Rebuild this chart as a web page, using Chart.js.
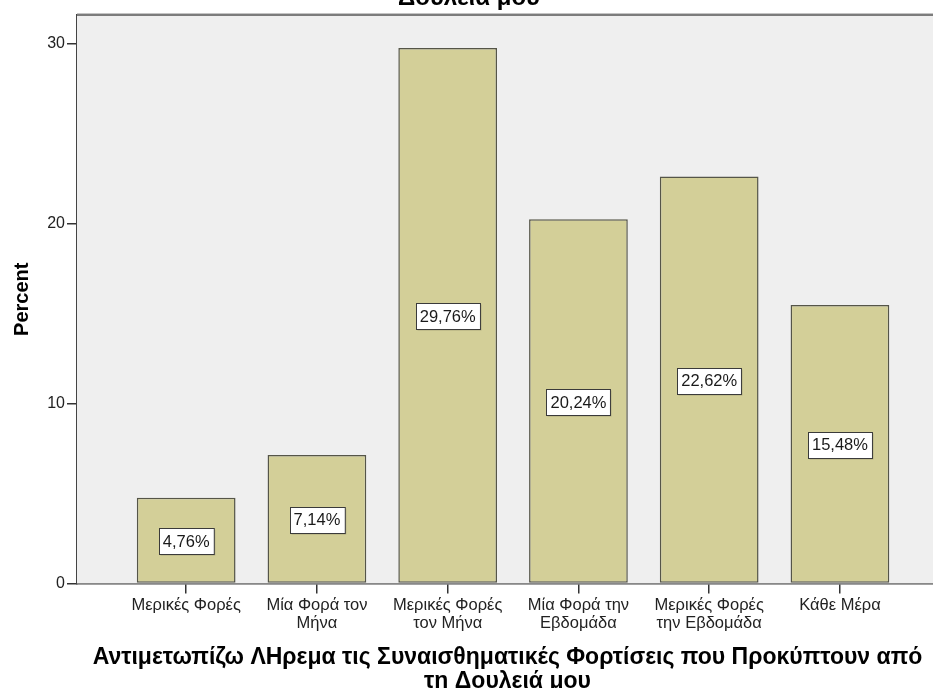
<!DOCTYPE html>
<html>
<head>
<meta charset="utf-8">
<script src="https://cdn.jsdelivr.net/npm/chart.js@4/dist/chart.umd.min.js"></script>
<style>
  html, body { margin: 0; padding: 0; background: #ffffff; overflow: hidden; }
  #frame { position: relative; width: 933px; height: 688px; overflow: hidden; }
  #chart { position: absolute; left: 0; top: -45px; }
</style>
</head>
<body>
<div id="frame"><canvas id="chart" width="945" height="745"></canvas></div>
<script>
// Response categories (tick labels, wrapped onto lines)
const categories = [
  ["Μερικές Φορές"],
  ["Μία Φορά τον", "Μήνα"],
  ["Μερικές Φορές", "τον Μήνα"],
  ["Μία Φορά την", "Εβδομάδα"],
  ["Μερικές Φορές", "την Εβδομάδα"],
  ["Κάθε Μέρα"]
];

// Percent of respondents per category
const percents = [4.76, 7.14, 29.76, 20.24, 22.62, 15.48];

// Value-axis ticks
const yTicks = [0, 10, 20, 30];

const chartTitle = [
  "Αντιμετωπίζω ΛΗρεμα τις Συναισθηματικές Φορτίσεις που Προκύπτουν από τη",
  "Δουλειά μου"
];
const xTitle = [
  "Αντιμετωπίζω ΛΗρεμα τις Συναισθηματικές Φορτίσεις που Προκύπτουν από",
  "τη Δουλειά μου"
];
const yTitle = "Percent";

const FONT = "'Liberation Sans', Arial, sans-serif";

// Grey plot background plus the frame line along its top edge
const plotFrame = {
  id: 'plotFrame',
  beforeDatasetsDraw(chart) {
    const { ctx, chartArea: a } = chart;
    ctx.save();
    ctx.fillStyle = '#efefef';
    ctx.fillRect(a.left, a.top, chart.width - a.left, a.bottom - a.top);
    ctx.fillStyle = '#c4c4c4';
    ctx.fillRect(a.left, a.top - 2, chart.width - a.left, 1);
    ctx.fillStyle = '#7c7c7c';
    ctx.fillRect(a.left, a.top - 1, chart.width - a.left, 2);
    ctx.restore();
  }
};

// Boxed percentage labels in the middle of each bar
const barLabels = {
  id: 'barLabels',
  afterDatasetsDraw(chart) {
    const { ctx } = chart;
    const meta = chart.getDatasetMeta(0);
    const values = chart.data.datasets[0].data;
    ctx.save();
    ctx.font = "16.5px " + FONT;
    ctx.textAlign = 'center';
    ctx.textBaseline = 'middle';
    meta.data.forEach((bar, i) => {
      const v = values[i].y;
      const text = v.toFixed(2).replace('.', ',') + '%';
      const w = ctx.measureText(text).width + 8;
      const h = 26;
      const cx = bar.x;
      const cy = (bar.y + bar.base) / 2 + 1;
      const x0 = Math.round(cx - w / 2) + 0.5;
      const y0 = Math.round(cy - h / 2) + 0.5;
      ctx.fillStyle = 'rgba(0,0,0,0.18)';
      ctx.fillRect(x0 + 1, y0 + 1, w, h);
      ctx.fillStyle = '#ffffff';
      ctx.fillRect(x0, y0, w, h);
      ctx.strokeStyle = '#3a3a3a';
      ctx.lineWidth = 1;
      ctx.strokeRect(x0, y0, w, h);
      ctx.fillStyle = '#1a1a1a';
      ctx.fillText(text, cx, cy + 1);
    });
    ctx.restore();
  }
};

new Chart(document.getElementById('chart'), {
  type: 'bar',
  data: {
    datasets: [{
      data: percents.map((v, i) => ({ x: i, y: v })),
      backgroundColor: '#d3cf98',
      borderColor: '#555548',
      borderWidth: 1.5,
      borderSkipped: false,
      categoryPercentage: 1,
      barPercentage: 0.755
    }]
  },
  options: {
    responsive: false,
    devicePixelRatio: 1,
    animation: false,
    layout: { padding: { left: 0, right: 7, top: 0, bottom: 0 } },
    plugins: {
      legend: { display: false },
      tooltip: { enabled: false },
      title: {
        display: true,
        text: chartTitle,
        color: '#000000',
        font: { family: FONT, size: 24, weight: 'bold', lineHeight: 1.2 },
        padding: { top: 0, bottom: 2.4 }
      }
    },
    scales: {
      x: {
        type: 'linear',
        offset: false,
        min: -0.835,
        max: 5.75,
        afterBuildTicks(scale) {
          scale.ticks = categories.map((_, i) => ({ value: i }));
        },
        ticks: {
          autoSkip: false,
          maxRotation: 0,
          padding: 3,
          color: '#222222',
          font: { family: FONT, size: 16.5, lineHeight: 1.1 },
          callback: (value) => categories[value]
        },
        grid: {
          offset: false,
          drawOnChartArea: false,
          drawTicks: true,
          tickLength: 10,
          color: '#333333',
          lineWidth: 1.5
        },
        border: { display: true, color: '#444444', width: 1.5 },
        title: {
          display: true,
          text: xTitle,
          color: '#000000',
          font: { family: FONT, size: 23, weight: 'bold', lineHeight: 1.05 },
          padding: { top: 10, bottom: 6 }
        }
      },
      y: {
        min: 0,
        max: 31.6,
        afterBuildTicks(scale) {
          scale.ticks = yTicks.map(v => ({ value: v }));
        },
        afterFit(scale) {
          scale.width = 77;
        },
        ticks: {
          padding: 2,
          color: '#222222',
          font: { family: FONT, size: 16 }
        },
        grid: {
          drawOnChartArea: false,
          drawTicks: true,
          tickLength: 10,
          color: '#333333',
          lineWidth: 1.5
        },
        border: { display: true, color: '#444444', width: 1.5 },
        title: {
          display: true,
          text: yTitle,
          color: '#000000',
          font: { family: FONT, size: 20, weight: 'bold', lineHeight: 1.2 },
          padding: { top: 10, bottom: 0 }
        }
      }
    }
  },
  plugins: [plotFrame, barLabels]
});
</script>
</body>
</html>
